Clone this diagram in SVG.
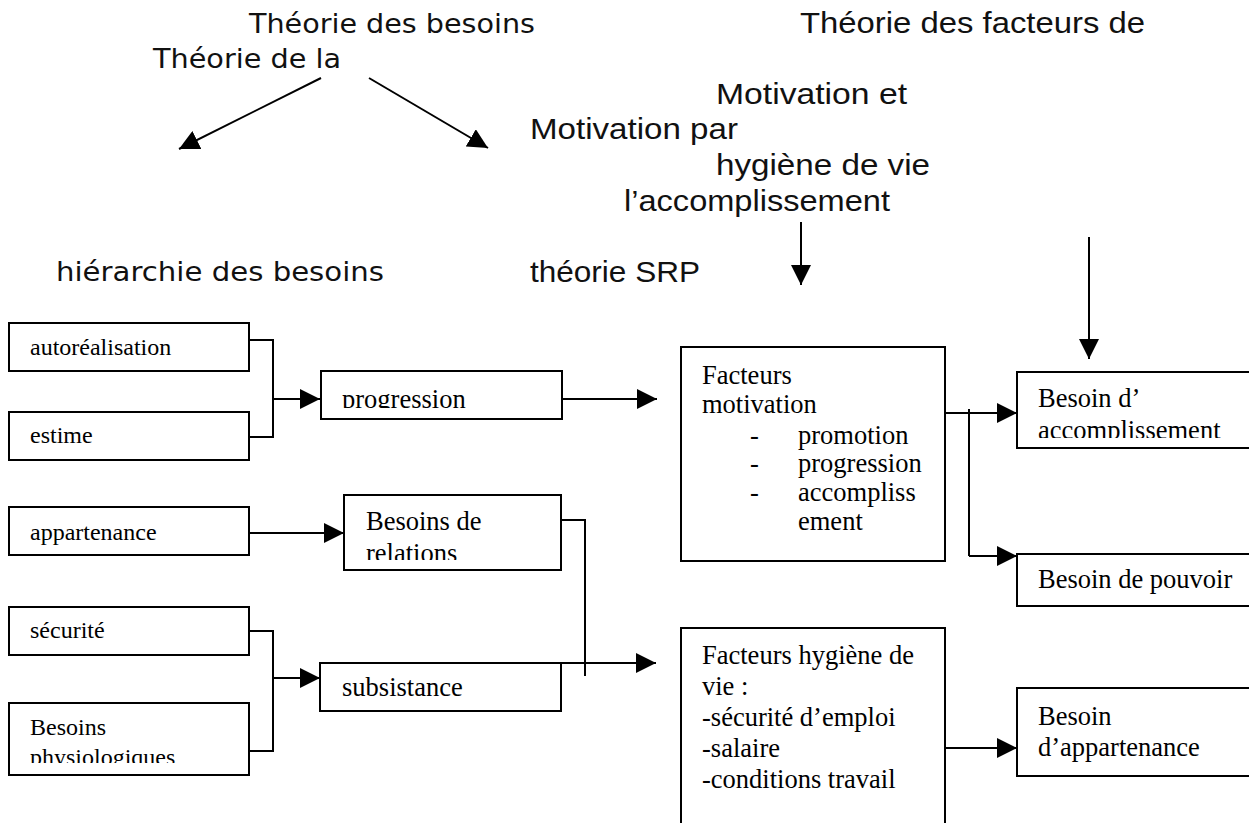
<svg xmlns="http://www.w3.org/2000/svg" width="1249" height="823" viewBox="0 0 1249 823">
  <style>
    .box { fill: #fff; stroke: #000; stroke-width: 2; }
    .line { fill: none; stroke: #000; stroke-width: 2; }
    .arrow { fill: none; stroke: #000; stroke-width: 2; marker-end: url(#head); }
    .s { font-family: "Liberation Serif", "Times New Roman", serif; font-size: 24px; fill: #000; }
    .m { font-family: "Liberation Serif", "Times New Roman", serif; font-size: 26.5px; fill: #000; }
    .wide { font-family: "DejaVu Sans", Verdana, sans-serif; font-size: 26px; fill: #111; }
    .narrow { font-family: "Liberation Sans", Arial, sans-serif; font-size: 29px; fill: #111; }
  </style>
  <defs>
    <marker id="head" markerUnits="userSpaceOnUse" markerWidth="20" markerHeight="20" refX="20" refY="10" orient="auto">
      <path d="M0,0 L20,10 L0,20 Z" fill="#000"/>
    </marker>
    <clipPath id="clipProgression"><rect x="321" y="371" width="241" height="37"/></clipPath>
    <clipPath id="clipRelations"><rect x="344" y="495" width="217" height="65"/></clipPath>
    <clipPath id="clipPhysio"><rect x="9" y="703" width="240" height="60"/></clipPath>
    <clipPath id="clipAccomp"><rect x="1017" y="372" width="232" height="66"/></clipPath>
  </defs>

  <rect width="1249" height="823" fill="#fff"/>

  <!-- Headings -->
  <g id="headings">
    <text class="wide" x="249" y="33" textLength="286" lengthAdjust="spacingAndGlyphs">Théorie des besoins</text>
    <text class="wide" x="153" y="68" textLength="188" lengthAdjust="spacingAndGlyphs">Théorie de la</text>
    <text class="wide" x="56" y="281" textLength="328" lengthAdjust="spacingAndGlyphs">hiérarchie des besoins</text>
    <text class="narrow" x="800" y="33" textLength="345" lengthAdjust="spacingAndGlyphs">Théorie des facteurs de</text>
    <text class="narrow" x="716" y="104" textLength="191" lengthAdjust="spacingAndGlyphs">Motivation et</text>
    <text class="narrow" x="530" y="139" textLength="208" lengthAdjust="spacingAndGlyphs">Motivation par</text>
    <text class="narrow" x="716" y="175" textLength="214" lengthAdjust="spacingAndGlyphs">hygiène de vie</text>
    <text class="narrow" x="624" y="211" textLength="266" lengthAdjust="spacingAndGlyphs">l’accomplissement</text>
    <text class="narrow" x="530" y="282" textLength="170" lengthAdjust="spacingAndGlyphs">théorie SRP</text>
  </g>

  <!-- Left column: Maslow levels -->
  <g id="autorealisation">
    <rect class="box" x="9" y="323" width="240" height="48"/>
    <text class="s" x="30" y="355">autoréalisation</text>
  </g>
  <g id="estime">
    <rect class="box" x="9" y="412" width="240" height="48"/>
    <text class="s" x="30" y="443">estime</text>
  </g>
  <g id="appartenance">
    <rect class="box" x="9" y="507" width="240" height="48"/>
    <text class="s" x="30" y="540">appartenance</text>
  </g>
  <g id="securite">
    <rect class="box" x="9" y="607" width="240" height="48"/>
    <text class="s" x="30" y="638">sécurité</text>
  </g>
  <g id="physiologiques">
    <rect class="box" x="9" y="703" width="240" height="72"/>
    <g clip-path="url(#clipPhysio)">
      <text class="s" x="30" y="735">Besoins</text>
      <text class="s" x="30" y="765">physiologiques</text>
    </g>
  </g>

  <!-- Middle column: ERG -->
  <g id="progression">
    <rect class="box" x="321" y="371" width="241" height="48"/>
    <text class="m" x="342" y="408" clip-path="url(#clipProgression)">progression</text>
  </g>
  <g id="relations">
    <rect class="box" x="344" y="495" width="217" height="75"/>
    <g clip-path="url(#clipRelations)">
      <text class="m" x="366" y="530">Besoins de</text>
      <text class="m" x="366" y="562">relations</text>
    </g>
  </g>
  <g id="subsistance">
    <rect class="box" x="320" y="663" width="241" height="48"/>
    <text class="m" x="342" y="696">subsistance</text>
  </g>

  <!-- Herzberg factors -->
  <g id="facteurs-motivation">
    <rect class="box" x="681" y="347" width="264" height="214"/>
    <text class="m" x="702" y="384">Facteurs</text>
    <text class="m" x="702" y="413">motivation</text>
    <text class="m" x="750" y="444">-</text>
    <text class="m" x="798" y="444">promotion</text>
    <text class="m" x="750" y="472">-</text>
    <text class="m" x="798" y="472">progression</text>
    <text class="m" x="750" y="501">-</text>
    <text class="m" x="798" y="501">accompliss</text>
    <text class="m" x="798" y="530">ement</text>
  </g>
  <g id="facteurs-hygiene">
    <rect class="box" x="681" y="628" width="264" height="210"/>
    <text class="m" x="702" y="664">Facteurs hygiène de</text>
    <text class="m" x="702" y="695">vie :</text>
    <text class="m" x="702" y="726">-sécurité d’emploi</text>
    <text class="m" x="702" y="757">-salaire</text>
    <text class="m" x="702" y="788">-conditions travail</text>
  </g>

  <!-- McClelland needs -->
  <g id="accomplissement">
    <rect class="box" x="1017" y="372" width="250" height="76"/>
    <g clip-path="url(#clipAccomp)">
      <text class="m" x="1038" y="407">Besoin d’</text>
      <text class="m" x="1038" y="439">accomplissement</text>
    </g>
  </g>
  <g id="pouvoir">
    <rect class="box" x="1017" y="554" width="250" height="52"/>
    <text class="m" x="1038" y="588">Besoin de pouvoir</text>
  </g>
  <g id="appartenance-besoin">
    <rect class="box" x="1017" y="688" width="250" height="88"/>
    <text class="m" x="1038" y="725">Besoin</text>
    <text class="m" x="1038" y="756">d’appartenance</text>
  </g>

  <!-- Connectors -->
  <g id="connectors">
    <path class="arrow" d="M321,78 L179,149"/>
    <path class="arrow" d="M369,78 L488,148"/>
    <path class="arrow" d="M801,222 L801,285"/>
    <path class="arrow" d="M1089,237 L1089,359"/>

    <path class="line" d="M249,340 H273 V437 H249"/>
    <path class="arrow" d="M273,399 H320"/>
    <path class="arrow" d="M562,399 H657"/>

    <path class="arrow" d="M249,533 H344"/>

    <path class="line" d="M249,631 H273 V751 H249"/>
    <path class="arrow" d="M273,678 H320"/>

    <path class="line" d="M561,520 H585 V676"/>
    <path class="arrow" d="M561,663 H656"/>

    <path class="arrow" d="M945,413 H1017"/>
    <path class="line" d="M969,409 V556"/>
    <path class="arrow" d="M969,556 H1017"/>

    <path class="arrow" d="M945,748 H1017"/>
  </g>
</svg>
